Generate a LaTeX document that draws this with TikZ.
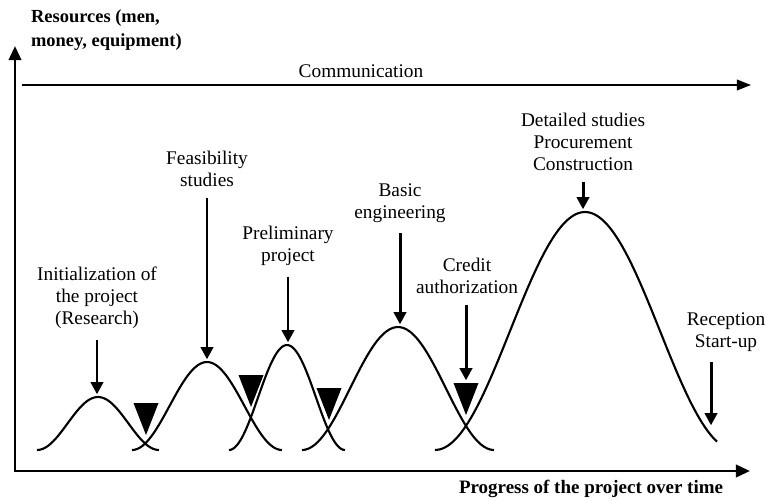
\documentclass[tikz,border=0pt]{standalone}
\usepackage{fontspec}
\setmainfont{Liberation Serif}
\usetikzlibrary{arrows.meta}
\begin{document}
\begin{tikzpicture}[x=0.02cm,y=-0.02cm,
  every node/.style={font=\fontsize{11}{12.6}\selectfont,align=center,inner sep=1pt},
  axis/.style={line width=1.6pt,line cap=rect,-{Triangle[length=8pt,width=7pt]}},
  phase/.style={line width=1.7pt,-{Triangle[length=7pt,width=7pt]},shorten <=5pt,shorten >=1.5pt},
  bell/.style={line width=1.2pt,line join=round},
  gate/.style={fill=black},
  bold/.style={font=\fontsize{10.5}{13.6}\selectfont\bfseries}]
\useasboundingbox (0,0) rectangle (766,500);
% axes
\coordinate (O) at (15,471);
\coordinate (ytop) at (15,46);
\coordinate (xend) at (750,471);
\draw[axis] (O) -- (ytop);
\draw[axis] (O) -- (xend);
\node[bold,align=left,anchor=west] (res) at (29,30) {Resources (men,\\money, equipment)};
\node[bold,font=\fontsize{10.8}{13.6}\selectfont\bfseries] (prog) at (591,489) {Progress of the project over time};
% communication
\coordinate (c0) at (22,85);
\coordinate (c1) at (751,85);
\draw[line width=1pt,-{Triangle[length=8pt,width=6pt]}] (c0) -- (c1);
\node (comm) at (361,71) {Communication};
% curves
\foreach \px/\hw/\py/\cut [count=\i] in {98/61/397/1, 207/75/362/1, 287/58/345/1, 398/96/327/1, 585/150/212/0.88}{
  \draw[bell] plot[domain=-1:\cut,samples=60,smooth] ({\px+\hw*\x},{450-(450-\py)*(1+cos(180*\x))/2});
  \coordinate (pk\i) at (\px,\py);
}
% gates
\foreach \gx/\gy [count=\i] in {146/403, 251/375, 329/388, 466/383}{
  \fill[gate] (\gx-12.5,\gy) -- (\gx+12.5,\gy) -- (\gx,\gy+32) -- cycle;
  \coordinate (g\i) at (\gx,\gy);
}
% phases
\node (init) at (97,298) {Initialization of\\the project\\(Research)};
\node (feas) at (207,169) {Feasibility\\studies};
\node (prelim) at (288,246) {Preliminary\\project};
\node (basic) at (400,203) {Basic\\engineering};
\node (credit) at (467,276) {Credit\\authorization};
\node (detail) at (583,142) {Detailed studies\\Procurement\\Construction};
\node (recept) at (726,332) {Reception\\Start-up};
\coordinate (fin) at (711,428);
\draw[phase] (init.south) -- (init.south |- pk1);
\draw[phase] (feas.south) -- (feas.south |- pk2);
\draw[phase] (prelim.south) -- (prelim.south |- pk3);
\draw[phase] (basic.south) -- (basic.south |- pk4);
\draw[phase] (credit.south -| g4) -- (g4);
\draw[phase] (detail.south) -- (detail.south |- pk5);
\draw[phase] (recept.south -| fin) -- (fin);
\end{tikzpicture}
\end{document}
